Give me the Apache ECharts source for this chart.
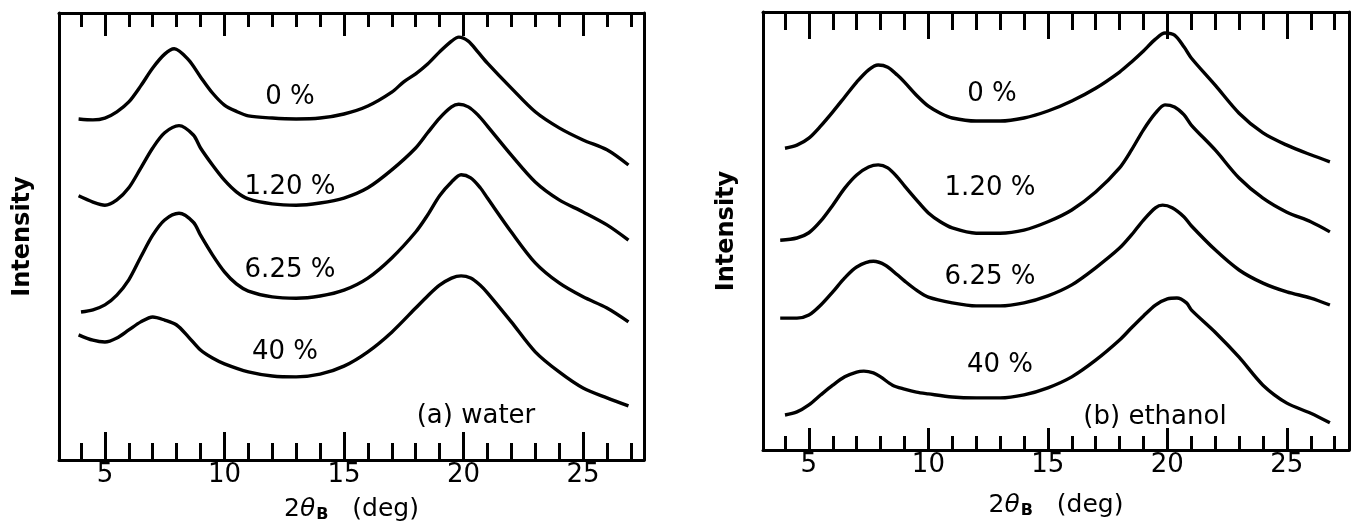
<!DOCTYPE html>
<html>
<head>
<meta charset="utf-8">
<script src="https://cdn.jsdelivr.net/npm/echarts@6/dist/echarts.min.js"></script>
<style>
  html, body { margin: 0; padding: 0; background: #fff; }
  #chart { width: 1352px; height: 529px; }
</style>
</head>
<body>
<div id="chart"></div>
<script>
// Tick positions on the 2θB axis (degrees)
const majorTicks = [5, 10, 15, 20, 25];
const minorTicks = [4, 6, 7, 8, 9, 11, 12, 13, 14, 16, 17, 18, 19, 21, 22, 23, 24, 26, 27];

// Curve annotations (sorbed amount)
const curveLabels = ['0 %', '1.20 %', '6.25 %', '40 %'];
const panelLabels = ['(a) water', '(b) ethanol'];

// Diffracted intensity (arbitrary units, curves offset vertically) vs 2θB (deg)
// (a) water
const water0 = [[3.9,76.3],[4.5,76.1],[5,76.5],[5.5,77.9],[6,80.1],[6.5,83.7],[7,87.7],[7.5,90.8],[7.9,92.0],[8.5,89.5],[9,85.7],[9.5,82.1],[10,79.4],[10.5,78.0],[11,77.0],[12,76.5],[13,76.3],[14,76.5],[15,77.4],[16,79.2],[17,82.3],[17.5,84.6],[18,86.4],[18.5,88.6],[19,91.3],[19.5,93.7],[19.8,94.6],[20.2,93.7],[20.6,91.3],[21,88.8],[22,83.2],[23,77.9],[24,74.3],[25,71.6],[26,69.4],[26.9,66.0]];
const water120 = [[3.9,59.1],[4.5,57.7],[5,57.0],[5.5,58.2],[6,60.9],[6.5,65.3],[7,69.8],[7.5,73.2],[8.1,74.8],[8.7,72.7],[9,69.8],[9.5,66.0],[10,62.6],[10.5,60.0],[11,58.4],[12,57.3],[13,57.0],[14,57.5],[15,58.6],[16,60.9],[17,64.9],[18,69.8],[18.5,73.2],[19,76.5],[19.5,79.0],[19.8,79.6],[20.2,79.0],[20.6,77.2],[21,74.7],[22,68.2],[23,62.2],[24,58.2],[25,55.5],[26,52.6],[26.9,49.2]];
const water625 = [[4,33.1],[4.5,33.6],[5,34.7],[5.5,36.9],[6,40.3],[6.5,45.4],[7,50.3],[7.5,53.7],[8.1,55.2],[8.7,53.2],[9,50.3],[9.5,45.9],[10,42.1],[10.5,39.4],[11,37.8],[12,36.5],[13,36.2],[14,36.7],[15,38.0],[16,40.7],[17,45.2],[18,51.0],[18.5,54.8],[19,59.1],[19.5,62.2],[19.9,63.8],[20.3,63.1],[20.7,60.9],[21,58.6],[22,51.0],[23,44.1],[24,39.6],[25,36.5],[26,34.0],[26.9,30.9]];
const water40 = [[3.9,28.0],[4.5,26.8],[5,26.4],[5.5,27.3],[6,29.1],[6.5,30.9],[7,32.0],[7.5,31.3],[8,30.2],[8.5,27.5],[9,24.6],[9.5,22.8],[10,21.5],[11,19.7],[12,18.8],[13,18.6],[14,19.2],[15,21.0],[16,24.2],[17,28.6],[18,34.0],[18.5,36.7],[19,39.1],[19.5,40.7],[19.9,41.2],[20.3,40.7],[20.7,39.1],[21,37.4],[22,30.9],[23,24.2],[24,19.7],[25,16.1],[26,13.9],[26.9,12.1]];

// (b) ethanol
const ethanol0 = [[4,68.9],[4.5,69.6],[5,71.2],[5.5,74.0],[6,77.2],[6.5,80.6],[7,84.0],[7.5,86.8],[7.9,87.9],[8.3,87.4],[8.7,85.6],[9,84.0],[9.5,81.0],[10,78.5],[10.5,76.9],[11,75.8],[12,75.1],[13,75.1],[14,75.8],[15,77.4],[16,79.7],[17,82.6],[18,86.3],[18.5,88.6],[19,91.1],[19.5,93.8],[19.9,95.2],[20.3,94.7],[20.7,92.0],[21,89.5],[22,83.3],[23,76.9],[24,72.4],[25,69.6],[26,67.4],[26.8,65.8]];
const ethanol120 = [[3.8,47.9],[4.5,48.4],[5,49.6],[5.5,52.3],[6,55.9],[6.5,59.8],[7,62.8],[7.5,64.6],[7.9,65.1],[8.3,64.4],[8.7,62.3],[9,60.3],[9.5,57.1],[10,54.1],[10.5,52.1],[11,50.7],[12,49.5],[13,49.5],[14,50.2],[15,52.1],[16,54.8],[17,58.9],[18,64.4],[18.5,68.5],[19,73.1],[19.5,76.9],[19.9,78.8],[20.3,78.3],[20.7,76.5],[21,74.2],[22,68.5],[23,62.1],[24,57.5],[25,54.3],[26,52.1],[26.8,49.8]];
const ethanol625 = [[3.8,30.1],[4.5,30.1],[5,30.8],[5.5,33.1],[6,36.1],[6.5,39.3],[7,41.8],[7.7,43.1],[8.2,42.2],[8.7,40.0],[9,38.6],[9.5,36.5],[10,34.9],[11,33.6],[12,32.9],[13,32.9],[14,33.6],[15,35.2],[16,37.7],[17,41.6],[18,46.1],[18.5,49.1],[19,52.5],[19.5,55.3],[19.8,55.9],[20.2,55.3],[20.7,53.2],[21,51.2],[22,45.7],[23,41.1],[24,38.1],[25,36.1],[26,34.7],[26.8,33.1]];
const ethanol40 = [[4,8.0],[4.5,8.7],[5,10.3],[5.5,12.6],[6,14.8],[6.5,16.7],[7,17.8],[7.3,18.0],[7.7,17.6],[8,16.7],[8.5,14.8],[9,13.9],[9.5,13.2],[10,12.8],[11,12.1],[12,11.9],[13,11.9],[14,12.6],[15,14.2],[16,16.7],[17,20.5],[18,25.1],[18.5,27.9],[19,30.6],[19.5,33.1],[20,34.5],[20.4,34.7],[20.8,33.6],[21,32.0],[22,26.9],[23,21.2],[24,14.8],[25,10.7],[26,8.4],[26.8,6.2]];

const FONT = 'DejaVu Sans';
const INK = '#000';

// Four x axes per panel: major/minor ticks on the bottom edge and on the top edge
function panelXAxes(gridIndex, min, max, len) {
  const base = {
    type: 'value', gridIndex, min, max,
    splitLine: { show: false },
    axisLabel: { show: false },
    axisLine: { show: false }
  };
  return [
    Object.assign({}, base, {
      position: 'bottom',
      axisLine: { show: true, lineStyle: { color: INK, width: 3 } },
      axisTick: { show: true, inside: true, length: len.bottomMajor, customValues: majorTicks, lineStyle: { color: INK, width: 3 } },
      axisLabel: { show: true, customValues: majorTicks, color: INK, fontFamily: FONT, fontSize: 26, margin: 2 },
      name: '2{th|θ}{sub|B}   (deg)',
      nameLocation: 'middle',
      nameGap: len.nameGap,
      nameTextStyle: {
        color: INK, fontFamily: FONT, fontSize: 25,
        rich: {
          th: { fontFamily: FONT, fontSize: 25, fontStyle: 'italic', color: INK },
          sub: { fontFamily: FONT, fontSize: 16, fontWeight: 'bold', color: INK, padding: [12, 0, 0, 1] }
        }
      }
    }),
    Object.assign({}, base, {
      position: 'bottom',
      axisTick: { show: true, inside: true, length: len.bottomMinor, customValues: minorTicks, lineStyle: { color: INK, width: 3 } }
    }),
    Object.assign({}, base, {
      position: 'top',
      axisLine: { show: true, lineStyle: { color: INK, width: 3 } },
      axisTick: { show: true, inside: true, length: len.topMajor, customValues: majorTicks, lineStyle: { color: INK, width: 3 } }
    }),
    Object.assign({}, base, {
      position: 'top',
      axisTick: { show: true, inside: true, length: len.topMinor, customValues: minorTicks, lineStyle: { color: INK, width: 3 } }
    })
  ];
}

// Left edge carries the "Intensity" name, right edge closes the frame
function panelYAxes(gridIndex, nameGap) {
  return [
    {
      type: 'value', gridIndex, min: 0, max: 100, position: 'left',
      axisLine: { show: true, lineStyle: { color: INK, width: 3 } },
      axisTick: { show: false }, axisLabel: { show: false }, splitLine: { show: false },
      name: 'Intensity', nameLocation: 'middle', nameRotate: 90, nameGap,
      nameTextStyle: { color: INK, fontFamily: FONT, fontSize: 24, fontWeight: 'bold' }
    },
    {
      type: 'value', gridIndex, min: 0, max: 100, position: 'right',
      axisLine: { show: true, lineStyle: { color: INK, width: 3 } },
      axisTick: { show: false }, axisLabel: { show: false }, splitLine: { show: false }
    }
  ];
}

function curve(data, xAxisIndex, yAxisIndex) {
  return {
    type: 'line', data, xAxisIndex, yAxisIndex,
    showSymbol: false, smooth: 0.3, silent: true,
    lineStyle: { color: INK, width: 3.4 }
  };
}

function textAt(text, x, y) {
  return {
    type: 'text', x, y,
    style: { text, fill: INK, font: '26px "' + FONT + '"', align: 'center', verticalAlign: 'middle' }
  };
}

const chart = echarts.init(document.getElementById('chart'), null, { renderer: 'canvas' });

chart.setOption({
  backgroundColor: '#fff',
  animation: false,
  grid: [
    { left: 59, top: 13, width: 585, height: 447 },
    { left: 763, top: 12, width: 586, height: 438 }
  ],
  xAxis: panelXAxes(0, 3.08, 27.55, { bottomMajor: 28, bottomMinor: 17, topMajor: 23, topMinor: 14, nameGap: 35 })
    .concat(panelXAxes(1, 3.08, 27.6, { bottomMajor: 22, bottomMinor: 14, topMajor: 27, topMinor: 18, nameGap: 41 })),
  yAxis: panelYAxes(0, 24).concat(panelYAxes(1, 24)),
  series: [
    curve(water0, 0, 0), curve(water120, 0, 0), curve(water625, 0, 0), curve(water40, 0, 0),
    curve(ethanol0, 4, 2), curve(ethanol120, 4, 2), curve(ethanol625, 4, 2), curve(ethanol40, 4, 2)
  ],
  graphic: [
    textAt(curveLabels[0], 290, 97),
    textAt(curveLabels[1], 290, 187),
    textAt(curveLabels[2], 290, 270),
    textAt(curveLabels[3], 285, 352),
    textAt(panelLabels[0], 476, 416),
    textAt(curveLabels[0], 992, 94),
    textAt(curveLabels[1], 990, 188),
    textAt(curveLabels[2], 990, 277),
    textAt(curveLabels[3], 1000, 365),
    textAt(panelLabels[1], 1155, 417)
  ]
});
</script>
</body>
</html>
